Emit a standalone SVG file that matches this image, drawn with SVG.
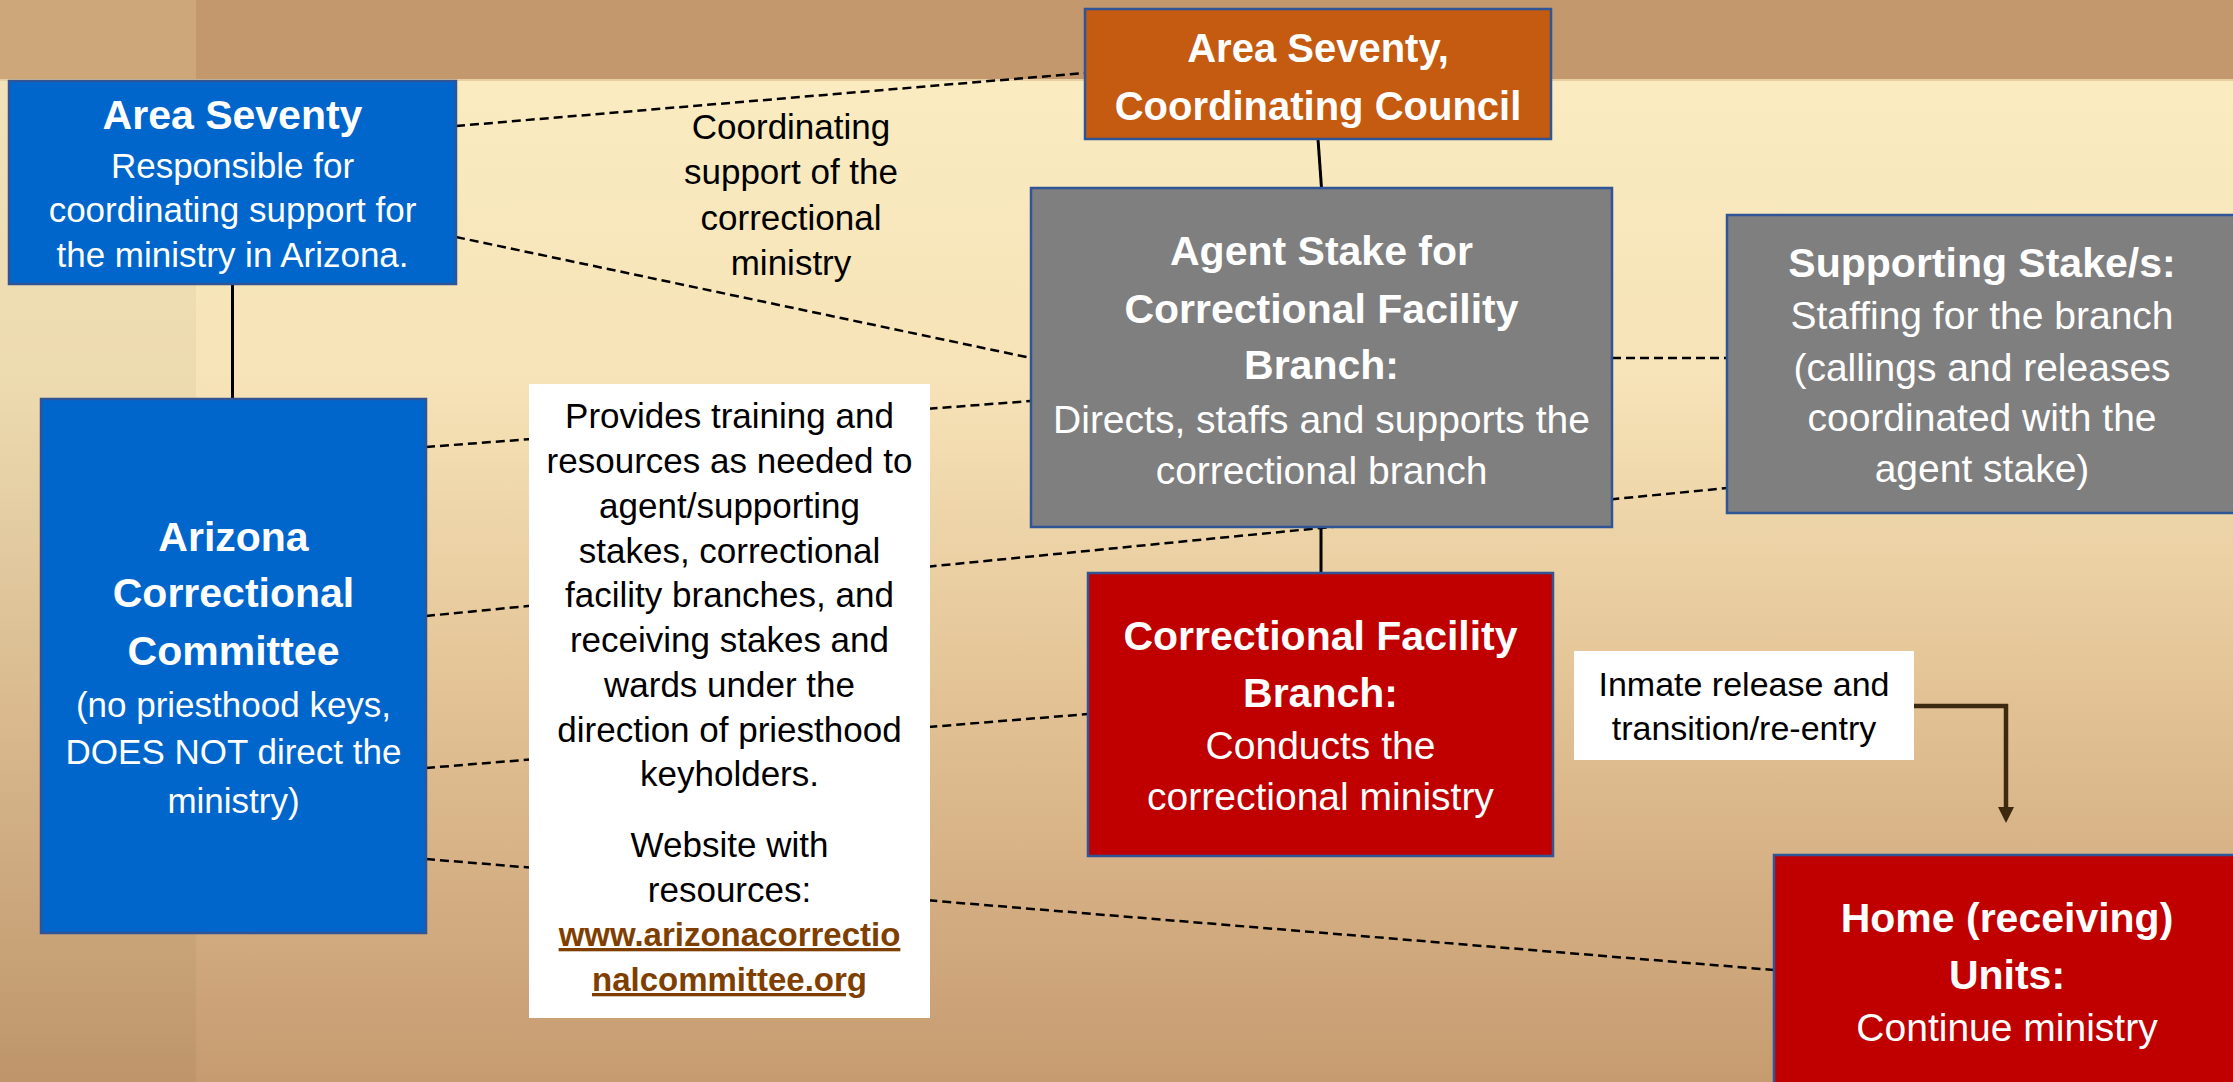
<svg xmlns="http://www.w3.org/2000/svg" width="2233" height="1082" viewBox="0 0 2233 1082">
<style>
  text { font-family: "Liberation Sans", Arial, sans-serif; text-anchor: middle; }
  .node { stroke: #2f5597; stroke-width: 2.5; }
  .blue { fill: #0066cc; }
  .orange { fill: #c55a11; }
  .gray { fill: #7f7f7f; }
  .red { fill: #c00000; }
  .label { fill: #ffffff; }
  .hw { fill: #ffffff; font-weight: bold; font-size: 41px; }
  .bw { fill: #ffffff; font-size: 35px; }
  .bw39 { fill: #ffffff; font-size: 39px; }
  .bk { fill: #000000; font-size: 35px; }
  .link { fill: #7f3f00; font-weight: bold; font-size: 33px; text-decoration: underline; }
  .dash { stroke: #000000; stroke-width: 2.5; stroke-dasharray: 9 5; fill: none; }
  .solid { stroke: #000000; stroke-width: 3; fill: none; }
  .arrow { stroke: #3d2810; stroke-width: 4.5; fill: none; }
</style>
<defs>
  <linearGradient id="bg" x1="0" y1="80" x2="0" y2="1082" gradientUnits="userSpaceOnUse">
    <stop offset="0" stop-color="#faebc1"/>
    <stop offset="0.3" stop-color="#f6e3b7"/>
    <stop offset="0.62" stop-color="#e2c295"/>
    <stop offset="1" stop-color="#c69b70"/>
  </linearGradient>
  <marker id="head" markerUnits="userSpaceOnUse" markerWidth="16" markerHeight="16" refX="3" refY="8" orient="auto">
    <path d="M0,0 L16,8 L0,16 z" fill="#3d2810"/>
  </marker>
</defs>

<g id="background">
  <rect x="0" y="0" width="2233" height="1082" fill="url(#bg)"/>
  <rect x="0" y="80" width="196" height="1002" fill="#000000" fill-opacity="0.035"/>
  <rect x="0" y="0" width="2233" height="80" fill="#c4986d"/>
  <rect x="0" y="0" width="196" height="80" fill="#cda67a"/>
  <rect x="0" y="79" width="2233" height="2" fill="#e8cfa2"/>
</g>

<g id="connectors">
  <line class="dash" x1="456" y1="126" x2="1085" y2="73"/>
  <line class="dash" x1="456" y1="237" x2="1031" y2="358"/>
  <line class="dash" x1="1612" y1="358" x2="1727" y2="358"/>
  <line class="dash" x1="426" y1="447" x2="1031" y2="401"/>
  <line class="dash" x1="426" y1="616" x2="1727" y2="488"/>
  <line class="dash" x1="426" y1="768" x2="1088" y2="714"/>
  <line class="dash" x1="426" y1="859" x2="1774" y2="970"/>
  <line class="solid" x1="232.5" y1="284" x2="232.5" y2="399"/>
  <line class="solid" x1="1318" y1="139" x2="1321.5" y2="188"/>
  <line class="solid" x1="1321" y1="527" x2="1321" y2="573"/>
  <path class="arrow" d="M1913,706 H2006 V810" marker-end="url(#head)"/>
</g>

<g id="area-seventy">
  <rect class="node blue" x="9" y="81" width="447" height="203"/>
  <text class="hw" x="232.5" y="129">Area Seventy</text>
  <text class="bw" x="232.5" y="178">Responsible for</text>
  <text class="bw" x="232.5" y="222">coordinating support for</text>
  <text class="bw" x="232.5" y="267">the ministry in Arizona.</text>
</g>

<g id="coordinating-council">
  <rect class="node orange" x="1085" y="9" width="466" height="130"/>
  <text class="hw" style="font-size:40px" x="1318" y="62">Area Seventy,</text>
  <text class="hw" style="font-size:40px" x="1318" y="120">Coordinating Council</text>
</g>

<g id="coordinating-label">
  <text class="bk" x="791" y="139">Coordinating</text>
  <text class="bk" x="791" y="184">support of the</text>
  <text class="bk" x="791" y="230">correctional</text>
  <text class="bk" x="791" y="275">ministry</text>
</g>

<g id="agent-stake">
  <rect class="node gray" x="1031" y="188" width="581" height="339"/>
  <text class="hw" x="1321.5" y="265">Agent Stake for</text>
  <text class="hw" x="1321.5" y="323">Correctional Facility</text>
  <text class="hw" x="1321.5" y="379">Branch:</text>
  <text class="bw39" x="1321.5" y="433">Directs, staffs and supports the</text>
  <text class="bw39" x="1321.5" y="484">correctional branch</text>
</g>

<g id="supporting-stakes">
  <rect class="node gray" x="1727" y="215" width="520" height="298"/>
  <text class="hw" x="1982" y="277">Supporting Stake/s:</text>
  <text class="bw39" x="1982" y="329">Staffing for the branch</text>
  <text class="bw39" x="1982" y="381">(callings and releases</text>
  <text class="bw39" x="1982" y="431">coordinated with the</text>
  <text class="bw39" x="1982" y="482">agent stake)</text>
</g>

<g id="arizona-committee">
  <rect class="node blue" x="41" y="399" width="385" height="534"/>
  <text class="hw" x="233.5" y="551">Arizona</text>
  <text class="hw" x="233.5" y="607">Correctional</text>
  <text class="hw" x="233.5" y="665">Committee</text>
  <text class="bw" x="233.5" y="717">(no priesthood keys,</text>
  <text class="bw" x="233.5" y="764">DOES NOT direct the</text>
  <text class="bw" x="233.5" y="813">ministry)</text>
</g>

<g id="training-box">
  <rect class="label" x="529" y="384" width="401" height="634"/>
  <text class="bk" x="729.5" y="428">Provides training and</text>
  <text class="bk" x="729.5" y="473">resources as needed to</text>
  <text class="bk" x="729.5" y="518">agent/supporting</text>
  <text class="bk" x="729.5" y="563">stakes, correctional</text>
  <text class="bk" x="729.5" y="607">facility branches, and</text>
  <text class="bk" x="729.5" y="652">receiving stakes and</text>
  <text class="bk" x="729.5" y="697">wards under the</text>
  <text class="bk" x="729.5" y="742">direction of priesthood</text>
  <text class="bk" x="729.5" y="786">keyholders.</text>
  <text class="bk" x="729.5" y="857">Website with</text>
  <text class="bk" x="729.5" y="902">resources:</text>
  <text class="link" x="729.5" y="946">www.arizonacorrectio</text>
  <text class="link" x="729.5" y="991">nalcommittee.org</text>
</g>

<g id="facility-branch">
  <rect class="node red" x="1088" y="573" width="465" height="283"/>
  <text class="hw" x="1320.5" y="650">Correctional Facility</text>
  <text class="hw" x="1320.5" y="707">Branch:</text>
  <text class="bw39" x="1320.5" y="759">Conducts the</text>
  <text class="bw39" x="1320.5" y="810">correctional ministry</text>
</g>

<g id="inmate-release">
  <rect class="label" x="1574" y="651" width="340" height="109"/>
  <text class="bk" style="font-size:34px" x="1744" y="696">Inmate release and</text>
  <text class="bk" style="font-size:34px" x="1744" y="740">transition/re-entry</text>
</g>

<g id="home-units">
  <rect class="node red" x="1774" y="855" width="466" height="240"/>
  <text class="hw" x="2007" y="932">Home (receiving)</text>
  <text class="hw" x="2007" y="989">Units:</text>
  <text class="bw39" x="2007" y="1041">Continue ministry</text>
</g>
</svg>
